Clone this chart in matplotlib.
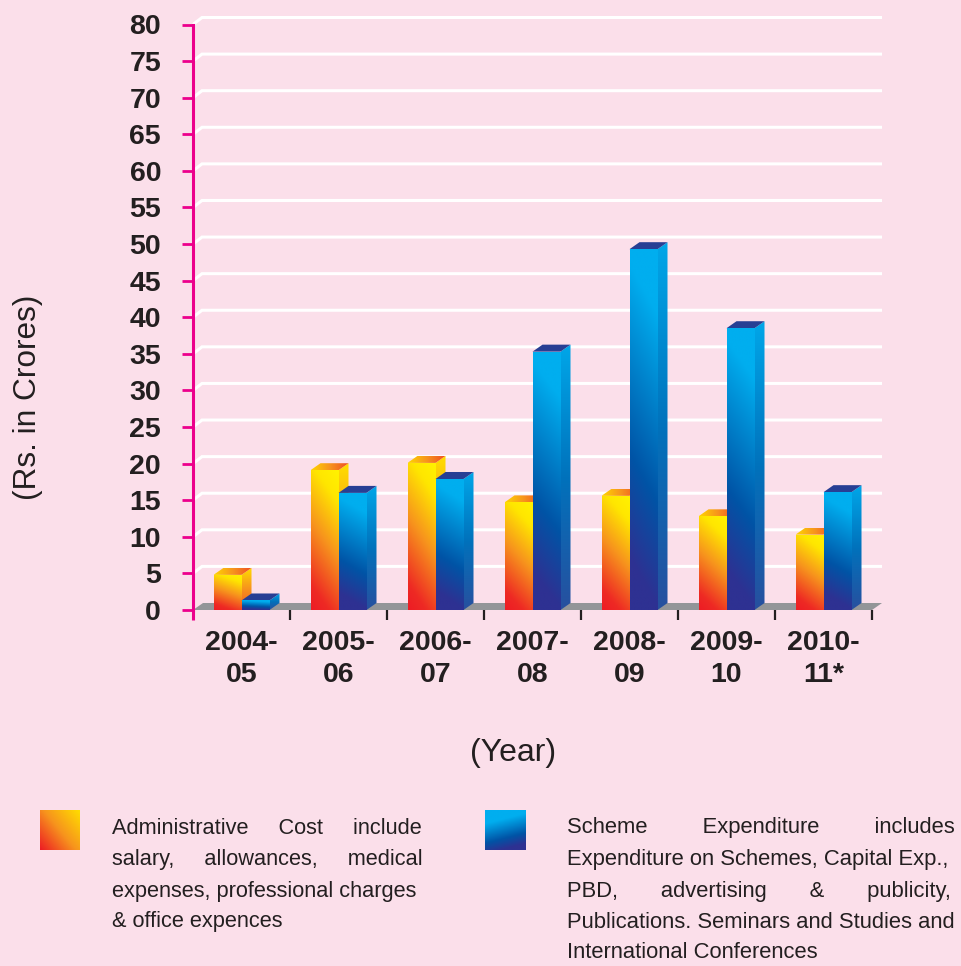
import numpy as np
import matplotlib
matplotlib.use("Agg")
import matplotlib.pyplot as plt
from matplotlib.colors import LinearSegmentedColormap
from matplotlib.patches import Polygon

years = ["2004-\n05", "2005-\n06", "2006-\n07", "2007-\n08", "2008-\n09", "2009-\n10", "2010-\n11*"]
admin_cost = [4.8, 19.1, 20.1, 14.7, 15.6, 12.8, 10.3]
scheme_exp = [1.3, 16.0, 17.9, 35.3, 49.3, 38.5, 16.1]
y_ticks = list(range(0, 85, 5))
legend_left = ["Administrative Cost include", "salary, allowances, medical",
               "expenses, professional charges", "& office expences"]
legend_right = ["Scheme Expenditure includes", "Expenditure on Schemes, Capital Exp.,",
                "PBD, advertising & publicity,", "Publications. Seminars and Studies and",
                "International Conferences"]

W, H = 961, 966
BG = "#FBDFEA"
INK = "#231F20"
PINK = "#EC008C"
FAM = "Liberation Sans"
plt.rcParams["font.family"] = [FAM, "DejaVu Sans"]

fig = plt.figure(figsize=(W / 100, H / 100), dpi=100, facecolor=BG)
X0, X1, Y0, Y80 = 193, 872, 610, 24.5
ax = fig.add_axes([X0 / W, 1 - Y0 / H, (X1 - X0) / W, (Y0 - Y80) / H], facecolor="none")
ax.set_xlim(-0.5, 6.5)
ax.set_ylim(0, 80)
px_x = 7 / (X1 - X0)
px_y = 80 / (Y0 - Y80)
DX, DY = 10 * px_x, 7 * px_y
BW = 28 * px_x

warm = LinearSegmentedColormap.from_list("warm", [(0, "#ED1C24"), (0.14, "#EE2A24"), (0.5, "#F7941D"), (0.82, "#FFE600"), (1, "#FFF200")])
warm_swatch = LinearSegmentedColormap.from_list("warmsw", [(0, "#ED1C24"), (0.5, "#F7941D"), (1, "#FFDD00")])
warm_side = LinearSegmentedColormap.from_list("warms", [(0, "#F15A24"), (0.5, "#F7941D"), (1, "#FFDD00")])
warm_top = LinearSegmentedColormap.from_list("warmt", ["#FFD400", "#F7941D", "#EF4E23"])
cool = LinearSegmentedColormap.from_list("cool", [(0, "#2E3192"), (0.12, "#2E3192"), (0.38, "#0054A6"), (0.85, "#00AEEF"), (1, "#00AEEF")])
cool_side = LinearSegmentedColormap.from_list("cools", [(0, "#27509F"), (0.5, "#0072BC"), (1, "#00A6E8")])


def grad(ku, kv, off=0.0, n=64):
    u, v = np.meshgrid(np.linspace(0, 1, n), np.linspace(1, 0, n))
    return off + ku * u + kv * v


def face(a, cmap, arr, verts, z):
    xs, ys = zip(*verts)
    im = a.imshow(arr, cmap=cmap, vmin=0, vmax=1, extent=(min(xs), max(xs), min(ys), max(ys)),
                  aspect="auto", interpolation="bilinear", zorder=z)
    poly = Polygon(verts, closed=True, transform=a.transData)
    im.set_clip_path(poly)
    return im


def bar3d(x, h, cmap, side, top, ku, kv, top_color, z):
    r = x + BW
    face(ax, side, grad(0, 1), [(r, 0), (r + DX, DY), (r + DX, h + DY), (r, h)], z)
    if top_color is None:
        face(ax, top, grad(1, 0), [(x, h), (r, h), (r + DX, h + DY), (x + DX, h + DY)], z)
    else:
        ax.add_patch(Polygon([(x, h), (r, h), (r + DX, h + DY), (x + DX, h + DY)], closed=True,
                             facecolor=top_color, edgecolor="none", zorder=z))
    face(ax, cmap, grad(ku, kv), [(x, 0), (r, 0), (r, h), (x, h)], z + 0.1)


# floor and back-wall lines
ax.add_patch(Polygon([(-0.5, 0), (6.5, 0), (6.5 + DX, DY), (-0.5 + DX, DY)], closed=True,
                     facecolor="#939598", edgecolor="none", zorder=1, clip_on=False))
for t in y_ticks[1:]:
    ax.plot([-0.5, -0.5 + DX * 0.9, 6.5 + DX], [t, t + DY, t + DY], color="white", lw=2.2,
            solid_joinstyle="miter", solid_capstyle="butt", zorder=1, clip_on=False)

for i, (a, s) in enumerate(zip(admin_cost, scheme_exp)):
    bar3d(i - BW, a, warm, warm_side, warm_top, 0.22, 0.78, None, 3 + i * 0.01)
    bar3d(i, s, cool, cool_side, None, 0.12, 0.88, "#273F94", 4 + i * 0.01)

ax.set_xlim(-0.5, 6.5)
ax.set_ylim(0, 80)

for sp in ("top", "right", "bottom"):
    ax.spines[sp].set_visible(False)
ax.spines["left"].set_color(PINK)
ax.spines["left"].set_linewidth(2.2)
ax.plot([-0.5, -0.5], [0, -10 * px_y], color=PINK, lw=2.2, clip_on=False, zorder=2, solid_capstyle="butt")

ax.set_yticks(y_ticks)
ax.tick_params(axis="y", length=8, width=2.0, color=PINK, pad=15, labelsize=20.5, labelcolor=INK)
for l in ax.get_yticklabels():
    l.set_fontweight("bold")
ax.set_xticks(np.arange(0.5, 7, 1))
ax.set_xticklabels([])
ax.tick_params(axis="x", which="major", length=7.2, width=1.6, color=INK)
ax.set_xticks(np.arange(7), minor=True)
ax.set_xticklabels(years, minor=True, fontsize=20.5, fontweight="bold", color=INK, linespacing=1.3)
ax.tick_params(axis="x", which="minor", length=0, pad=14.5)

fig.text(513 / W, 1 - 753 / H, "(Year)", fontsize=23, color=INK, ha="center", va="center")
fig.text(28 / W, 1 - 397 / H, "(Rs. in Crores)", fontsize=22.8, color=INK, rotation=90, ha="center", va="center")

# legend swatches
for x0, cmap, k in ((40, warm_swatch, (0.55, 0.45, 0.0)), (485, cool, (-0.25, 0.95, 0.22))):
    sw = fig.add_axes([x0 / W, 1 - 850 / H, 40 / W, 40 / H])
    sw.imshow(grad(*k), cmap=cmap, vmin=0, vmax=1, aspect="auto", interpolation="bilinear")
    sw.axis("off")

# legend text, justified by widening the gaps between words
renderer = fig.canvas.get_renderer()


def width(s, size):
    t = fig.text(0, 0, s.replace(" ", "\u00a0"), fontsize=size)
    w = t.get_window_extent(renderer).width
    t.remove()
    return w


def line(s, x0, x1, y, size, justify=True):
    words = s.split(" ")
    if justify and len(words) > 1:
        sp = width("a a", size) - width("aa", size)
        free = (x1 - x0) - width(s, size)
        n = int(round(max(0, free) / (len(words) - 1) / sp))
        s = (" " * (n + 1)).join(words)
    fig.text(x0 / W, 1 - y / H, s, fontsize=size, color=INK, ha="left", va="center")


left_y = [828, 860, 891, 922]
for i, (s, y) in enumerate(zip(legend_left, left_y)):
    line(s, 112, 420, y, 15.7, justify=i < 3)
right_y = [828, 860, 891, 922, 953]
for i, (s, y) in enumerate(zip(legend_right, right_y)):
    line(s, 567, 957, y, 15.8, justify=i < 4)

fig.savefig("out.png", dpi=100, facecolor=BG)
